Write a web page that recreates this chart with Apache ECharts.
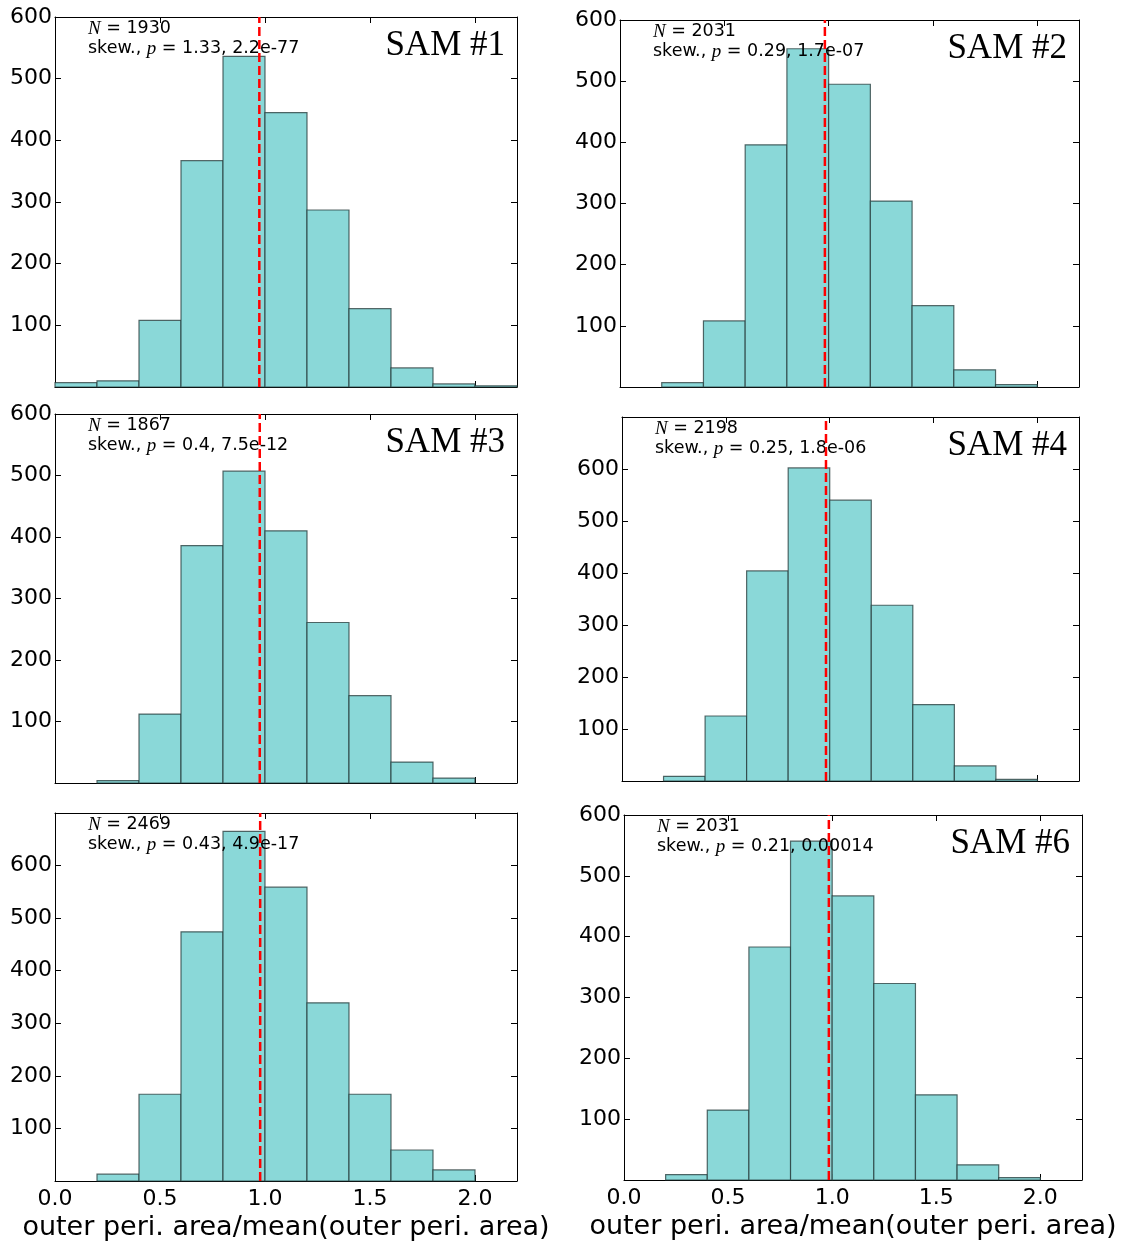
<!DOCTYPE html>
<html><head><meta charset="utf-8">
<script src="https://cdn.jsdelivr.net/npm/echarts@6/dist/echarts.min.js"></script>
<style>html,body{margin:0;padding:0;background:#fff}#c{width:1122px;height:1245px}</style>
</head><body><div id="c"></div>
<script>
// ---- data ----
const binEdges = [0, 0.2, 0.4, 0.6, 0.8, 1.0, 1.2, 1.4, 1.6, 1.8, 2.0, 2.2];
const sam1 = [7, 10, 108, 367, 536, 445, 287, 127, 31, 5, 2];
const sam2 = [0, 7, 108, 396, 553, 495, 304, 133, 28, 4, 0];
const sam3 = [0, 4, 112, 386, 507, 410, 261, 142, 34, 8, 0];
const sam4 = [0, 9, 125, 404, 602, 540, 338, 147, 29, 3, 0];
const sam5 = [0, 13, 165, 474, 665, 559, 339, 165, 59, 21, 0];
const sam6 = [0, 9, 115, 383, 557, 467, 323, 140, 25, 4, 0];
const meanLines = [0.973, 0.982, 0.975, 0.982, 0.977, 0.984];
const nValues = [1930, 2031, 1867, 2198, 2469, 2031];
const skewValues = ['1.33', '0.29', '0.4', '0.25', '0.43', '0.21'];
const pValues = ['2.2e-77', '1.7e-07', '7.5e-12', '1.8e-06', '4.9e-17', '0.00014'];
const panelTitles = ['SAM #1', 'SAM #2', 'SAM #3', 'SAM #4', '', 'SAM #6'];
const yMaxes = [600, 600, 600, 700, 700, 600];
const xTickLabels = ['0.0', '0.5', '1.0', '1.5', '2.0'];
const xTitle = 'outer peri. area/mean(outer peri. area)';

const counts = [sam1, sam2, sam3, sam4, sam5, sam6];

// ---- layout ----
const grids = [
  {left: 55, top: 17, width: 462, height: 370},
  {left: 620, top: 20, width: 459, height: 367},
  {left: 55, top: 414, width: 462, height: 369},
  {left: 622, top: 417, width: 457, height: 364},
  {left: 55, top: 813, width: 462, height: 368},
  {left: 624, top: 815, width: 458, height: 365}
];
const FONT = 'DejaVu Sans';
const chart = echarts.init(document.getElementById('c'), null, {renderer: 'canvas'});

const xAxes = [], yAxes = [], series = [], graphics = [];
grids.forEach((g, i) => {
  const bottomRow = i >= 4;
  const common = {
    gridIndex: i, type: 'value', min: 0, max: 2.2, interval: 0.5,
    axisLine: {show: true, onZero: false, lineStyle: {color: '#000', width: 1}},
    axisTick: {show: true, inside: true, length: 6, lineStyle: {color: '#000'}},
    splitLine: {show: false}
  };
  xAxes.push(Object.assign({}, common, {
    position: 'bottom',
    axisLabel: {show: bottomRow, margin: 7, fontFamily: FONT, fontSize: 22, color: '#000',
      showMaxLabel: false,
      formatter: v => { const k = Math.round(v / 0.5); return Math.abs(v - k * 0.5) < 1e-6 ? xTickLabels[k] || '' : ''; }},
    name: bottomRow ? xTitle : '', nameLocation: 'middle', nameGap: 33,
    nameTextStyle: {fontFamily: FONT, fontSize: 27, color: '#000'}
  }));
  xAxes.push(Object.assign({}, common, {position: 'top', axisLabel: {show: false}}));
  const ycommon = {
    gridIndex: i, type: 'value', min: 0, max: yMaxes[i], interval: 100,
    axisLine: {show: true, onZero: false, lineStyle: {color: '#000', width: 1}},
    axisTick: {show: true, inside: true, length: 6, lineStyle: {color: '#000'}},
    splitLine: {show: false}
  };
  yAxes.push(Object.assign({}, ycommon, {
    position: 'left',
    axisLabel: {show: true, margin: 3, fontFamily: FONT, fontSize: 22, color: '#000',
      formatter: v => (v === 0 || v > 600) ? '' : String(v)}
  }));
  yAxes.push(Object.assign({}, ycommon, {position: 'right', axisLabel: {show: false}}));

  const data = counts[i].map((c, k) => [binEdges[k], binEdges[k + 1], c]).filter(d => d[2] > 0);
  series.push({
    type: 'custom', xAxisIndex: 2 * i, yAxisIndex: 2 * i,
    encode: {x: [0, 1], y: 2},
    data: data,
    renderItem: (params, api) => {
      const p0 = api.coord([api.value(0), 0]);
      const p1 = api.coord([api.value(1), api.value(2)]);
      return {type: 'rect',
        shape: {x: p0[0], y: p1[1], width: p1[0] - p0[0], height: p0[1] - p1[1]},
        style: {fill: '#8ad8d8', stroke: 'rgba(35,55,55,0.75)', lineWidth: 1.2}};
    },
    z: 2, silent: true
  });
  series.push({
    type: 'line', xAxisIndex: 2 * i, yAxisIndex: 2 * i,
    data: [[meanLines[i], 0], [meanLines[i], yMaxes[i]]],
    symbol: 'none', silent: true,
    lineStyle: {color: '#ff0000', width: 2.5, type: [9, 4]},
    z: 4
  });

  const rich = {i: {fontFamily: 'Liberation Serif', fontStyle: 'italic', fontSize: 19, fill: '#000'}};
  graphics.push({
    type: 'text', left: g.left + 33, top: g.top + 2, z: 3,
    style: {text: '{i|N} = ' + nValues[i], font: '17.5px "DejaVu Sans"', fill: '#000', rich: rich}
  });
  graphics.push({
    type: 'text', left: g.left + 33, top: g.top + 22, z: 3,
    style: {text: 'skew., {i|p} = ' + skewValues[i] + ', ' + pValues[i], font: '17.5px "DejaVu Sans"', fill: '#000', rich: rich}
  });
  if (panelTitles[i]) {
    graphics.push({
      type: 'text', right: 1122 - (g.left + g.width) + 12, top: g.top + 11, z: 3,
      style: {text: panelTitles[i], font: '35px "Liberation Serif"', fill: '#000'}
    });
  }
});

chart.setOption({
  animation: false,
  backgroundColor: '#fff',
  grid: grids.map(g => Object.assign({show: false}, g)),
  xAxis: xAxes,
  yAxis: yAxes,
  series: series,
  graphic: graphics
});
</script></body></html>
